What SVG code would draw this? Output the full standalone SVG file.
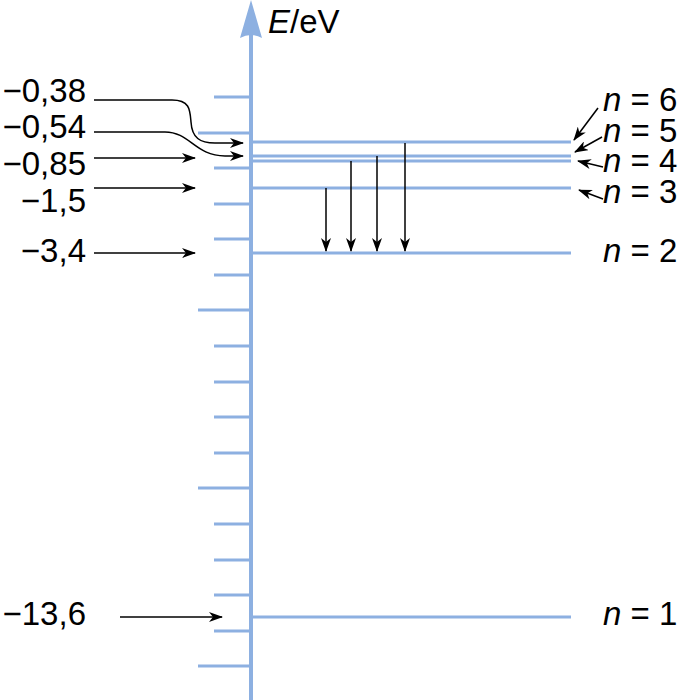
<svg xmlns="http://www.w3.org/2000/svg" width="683" height="700" viewBox="0 0 683 700">
<style>
.ax{stroke:#8db0e1;stroke-width:4;fill:none}
.tk{stroke:#8db0e1;stroke-width:3;fill:none}
.lv{stroke:#8db0e1;stroke-width:3;fill:none}
.ar{stroke:#000;stroke-width:1.5;fill:none;marker-end:url(#ah)}
.t{font-family:"Liberation Sans",Arial,sans-serif;font-size:33px;fill:#000}
.i{font-style:italic}
</style>
<defs>
<marker id="ah" viewBox="0 0 14 10" refX="13" refY="5" markerWidth="14" markerHeight="10" markerUnits="userSpaceOnUse" orient="auto">
<path d="M0,0 L14,5 L0,10 L4,5 Z" fill="#000"/>
</marker>
</defs>
<g id="axis">
<line class="ax" x1="251" y1="30" x2="251" y2="700"/>
<path d="M251,0 L262,38 Q251,32 240,38 Z" fill="#8db0e1"/>
<text class="t" x="268" y="33"><tspan class="i">E</tspan>/eV</text>
</g>
<g id="ticks">
<line class="tk" x1="214" y1="97" x2="251" y2="97"/>
<line class="tk" x1="198" y1="133" x2="251" y2="133"/>
<line class="tk" x1="214" y1="168" x2="251" y2="168"/>
<line class="tk" x1="214" y1="204" x2="251" y2="204"/>
<line class="tk" x1="214" y1="239" x2="251" y2="239"/>
<line class="tk" x1="214" y1="275" x2="251" y2="275"/>
<line class="tk" x1="198" y1="310" x2="251" y2="310"/>
<line class="tk" x1="214" y1="346" x2="251" y2="346"/>
<line class="tk" x1="214" y1="382" x2="251" y2="382"/>
<line class="tk" x1="214" y1="417" x2="251" y2="417"/>
<line class="tk" x1="214" y1="453" x2="251" y2="453"/>
<line class="tk" x1="198" y1="488" x2="251" y2="488"/>
<line class="tk" x1="214" y1="524" x2="251" y2="524"/>
<line class="tk" x1="214" y1="560" x2="251" y2="560"/>
<line class="tk" x1="214" y1="595" x2="251" y2="595"/>
<line class="tk" x1="214" y1="631" x2="251" y2="631"/>
<line class="tk" x1="198" y1="666" x2="251" y2="666"/>
</g>
<g id="level-n6"><line class="lv" x1="251" y1="142" x2="571" y2="142"/><text class="t" x="603" y="111"><tspan class="i">n</tspan> = 6</text></g>
<g id="level-n5"><line class="lv" x1="251" y1="156" x2="571" y2="156"/><text class="t" x="603" y="142"><tspan class="i">n</tspan> = 5</text></g>
<g id="level-n4"><line class="lv" x1="251" y1="161" x2="571" y2="161"/><text class="t" x="603" y="172"><tspan class="i">n</tspan> = 4</text></g>
<g id="level-n3"><line class="lv" x1="251" y1="188" x2="571" y2="188"/><text class="t" x="603" y="203"><tspan class="i">n</tspan> = 3</text></g>
<g id="level-n2"><line class="lv" x1="251" y1="253" x2="571" y2="253"/><text class="t" x="603" y="262"><tspan class="i">n</tspan> = 2</text></g>
<g id="level-n1"><line class="lv" x1="251" y1="617" x2="571" y2="617"/><text class="t" x="603" y="625"><tspan class="i">n</tspan> = 1</text></g>
<g id="labels">
<text class="t" x="86" y="102" text-anchor="end">−0,38</text>
<text class="t" x="86" y="138" text-anchor="end">−0,54</text>
<text class="t" x="86" y="175" text-anchor="end">−0,85</text>
<text class="t" x="86" y="212" text-anchor="end">−1,5</text>
<text class="t" x="86" y="262" text-anchor="end">−3,4</text>
<text class="t" x="86" y="625" text-anchor="end">−13,6</text>
</g>
<g id="connectors">
<path class="ar" d="M94,100 L172,100 C190,100 190,110 191,122 C192,138 200,143 215,143 L243,143"/>
<path class="ar" d="M94,132 L165,132 C190,132 195,156 225,156 L243,156"/>
<path class="ar" d="M94,158 L195,158"/>
<path class="ar" d="M94,188 L195,188"/>
<path class="ar" d="M94,253 L195,253"/>
<path class="ar" d="M120,617 L222,617"/>
<path class="ar" d="M326,188 L326,251"/>
<path class="ar" d="M351,161 L351,251"/>
<path class="ar" d="M377,156 L377,251"/>
<path class="ar" d="M405,143 L405,251"/>
<path class="ar" d="M598,108 L574,140"/>
<path class="ar" d="M602,137 L575,152"/>
<path class="ar" d="M603,167 L578,161"/>
<path class="ar" d="M603,199 L579,190"/>
</g>
</svg>
